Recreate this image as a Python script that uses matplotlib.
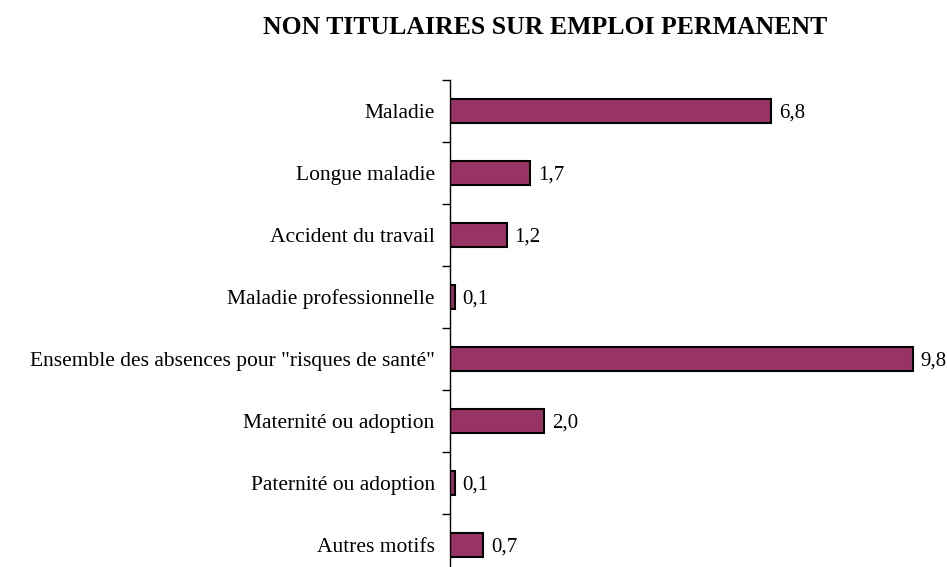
import matplotlib
matplotlib.use("Agg")
import matplotlib.pyplot as plt
import numpy as np

categories = ["Maladie", "Longue maladie", "Accident du travail", "Maladie professionnelle",
              "Ensemble des absences pour \"risques de santé\"", "Maternité ou adoption",
              "Paternité ou adoption", "Autres motifs"]
values = [6.8, 1.7, 1.2, 0.1, 9.8, 2.0, 0.1, 0.7]
title = "NON TITULAIRES SUR EMPLOI PERMANENT"

plt.rcParams['font.family'] = ['Liberation Serif', 'DejaVu Serif']

fig = plt.figure(figsize=(9.47, 5.67), dpi=100)
ax = fig.add_axes([450/947, -9/567, 472/947, 496/567])

pos = np.arange(len(categories))
ax.barh(pos, values, height=0.38, color='#993366', edgecolor='black', linewidth=1.5)
ax.set_ylim(len(categories) - 0.5, -0.5)
ax.set_xlim(0, 10)

for p, v in zip(pos, values):
    ax.text(v + 0.17, p + 0.04, f"{v:.1f}".replace('.', ','), va='center', ha='left', fontsize=15)

ax.set_yticks(np.arange(len(categories) + 1) - 0.5)
ax.set_yticklabels([])
ax.tick_params(axis='y', which='major', length=6, width=1)
ax.set_yticks(pos, minor=True)
ax.set_yticklabels(categories, minor=True, fontsize=15.5)
ax.tick_params(axis='y', which='minor', length=0, pad=11)

ax.set_xticks([])
for s in ['top', 'right', 'bottom']:
    ax.spines[s].set_visible(False)
ax.spines['left'].set_linewidth(1)

fig.text(545/947, 1 - 28/567, title, ha='center', va='center', fontsize=18.5, fontweight='bold')

fig.savefig("out.png", dpi=100)
